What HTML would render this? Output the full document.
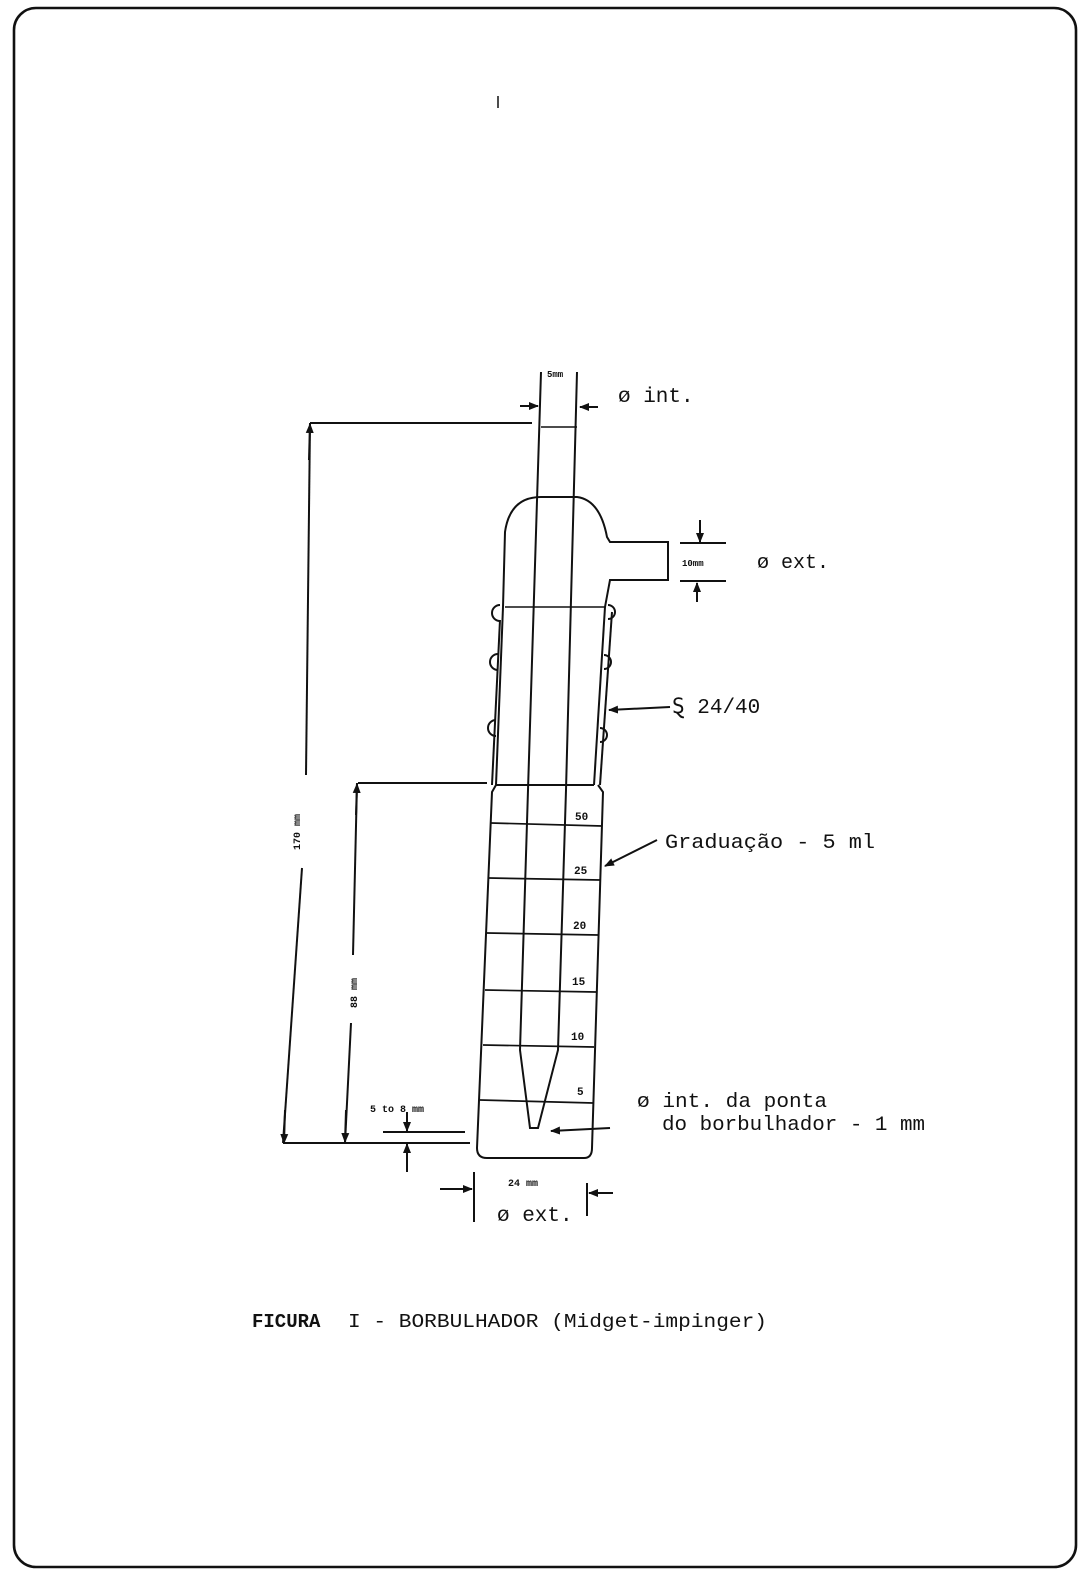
<!DOCTYPE html>
<html><head><meta charset="utf-8"><style>
html,body{margin:0;padding:0;background:#fff;}
svg{display:block;}
text{font-family:"Liberation Mono",monospace;fill:#111;}
</style></head><body>
<svg width="1083" height="1592" viewBox="0 0 1083 1592" xmlns="http://www.w3.org/2000/svg">
<defs>
<marker id="ah" markerWidth="10" markerHeight="10" refX="9" refY="5" orient="auto" markerUnits="userSpaceOnUse"><path d="M0,1 L10,5 L0,9 z" fill="#111"/></marker>
</defs>
<g fill="none" stroke="#111" stroke-width="2.6">
<rect x="14" y="8" width="1062" height="1559" rx="22"/>
</g>
<g fill="none" stroke="#111" stroke-width="2">
<!-- stray mark -->
<line x1="498" y1="96" x2="498" y2="108" stroke-width="1.5"/>
<!-- inner tube -->
<path d="M541 372 L528 790 L520 1050 L530 1128 L538 1128 L558 1050 L566 790 L577 372"/>
<line x1="541" y1="427" x2="577" y2="427" stroke-width="1.6"/>
<!-- 5mm dims -->
<line x1="520" y1="406" x2="538" y2="406" marker-end="url(#ah)"/>
<line x1="598" y1="407" x2="580" y2="407" marker-end="url(#ah)"/>
<!-- dome & side arm -->
<path d="M503 607 L505 532 Q510 497 541 497 L577 497 Q600 500 607 537 L610 542 L668 542 L668 580 L610 580 L605 607"/>
<line x1="505" y1="607" x2="605" y2="607" stroke-width="1.6"/>
<!-- joint left -->
<path d="M503 607 L496 785"/>
<path d="M500 620 L492 785"/>
<path d="M500 605 A8 8 0 0 0 500 621"/>
<path d="M498 654 A8 8 0 0 0 498 670"/>
<path d="M496 720 A8 8 0 0 0 496 736"/>
<!-- joint right -->
<path d="M605 607 L594 785"/>
<path d="M612 612 L600 785"/>
<path d="M608 605 A7 7 0 0 1 608 619"/>
<path d="M604 655 A7 7 0 0 1 604 669"/>
<path d="M600 728 A7 7 0 0 1 600 742"/>
<!-- lower body -->
<line x1="496" y1="785" x2="594" y2="785"/>
<path d="M496 785 L492 792 L477 1148 Q477 1158 487 1158 L584 1158 Q592 1158 592 1148 L603 792 L598 785"/>
<g stroke-width="1.7">
<line x1="491" y1="823" x2="602" y2="826"/>
<line x1="489" y1="878" x2="600" y2="880"/>
<line x1="487" y1="933" x2="598" y2="935"/>
<line x1="485" y1="990" x2="596" y2="992"/>
<line x1="483" y1="1045" x2="594" y2="1047"/>
<line x1="480" y1="1100" x2="593" y2="1103"/>
</g>
<!-- 170 mm -->
<line x1="310" y1="423" x2="532" y2="423"/>
<line x1="310" y1="423" x2="306" y2="775"/>
<line x1="302" y1="868" x2="283" y2="1143"/>
<line x1="283" y1="1143" x2="470" y2="1143"/>
<line x1="285" y1="1110" x2="284" y2="1143" marker-end="url(#ah)"/>
<line x1="309" y1="460" x2="310" y2="424" marker-end="url(#ah)"/>
<!-- 88 mm -->
<line x1="358" y1="783" x2="487" y2="783"/>
<line x1="357" y1="783" x2="353" y2="955"/>
<line x1="351" y1="1023" x2="345" y2="1143"/>
<line x1="356" y1="815" x2="357" y2="784" marker-end="url(#ah)"/>
<line x1="346" y1="1110" x2="345" y2="1142" marker-end="url(#ah)"/>
<!-- 5 to 8 mm -->
<line x1="383" y1="1132" x2="465" y2="1132"/>
<line x1="407" y1="1112" x2="407" y2="1131" marker-end="url(#ah)"/>
<line x1="407" y1="1172" x2="407" y2="1144" marker-end="url(#ah)"/>
<!-- 24 mm -->
<line x1="474" y1="1172" x2="474" y2="1222"/>
<line x1="587" y1="1183" x2="587" y2="1216"/>
<line x1="440" y1="1189" x2="472" y2="1189" marker-end="url(#ah)"/>
<line x1="613" y1="1193" x2="589" y2="1193" marker-end="url(#ah)"/>
<!-- 10 mm -->
<line x1="680" y1="543" x2="726" y2="543"/>
<line x1="680" y1="581" x2="726" y2="581"/>
<line x1="700" y1="520" x2="700" y2="542" marker-end="url(#ah)"/>
<line x1="697" y1="602" x2="697" y2="583" marker-end="url(#ah)"/>
<!-- leaders -->
<line x1="670" y1="707" x2="609" y2="710" marker-end="url(#ah)"/>
<line x1="657" y1="840" x2="605" y2="866" marker-end="url(#ah)"/>
<line x1="610" y1="1128" x2="551" y2="1131" marker-end="url(#ah)"/>
</g>
<!-- texts -->
<text x="547" y="377" font-size="9" font-weight="bold">5mm</text>
<text x="618" y="402" font-size="21">ø int.</text>
<text x="682" y="566" font-size="9" font-weight="bold">10mm</text>
<text x="757" y="568" font-size="20">ø ext.</text>
<text x="672" y="713" font-size="21">Ȿ 24/40</text>
<text x="665" y="848" font-size="20" textLength="210" lengthAdjust="spacingAndGlyphs">Graduação - 5 ml</text>
<text x="575" y="820" font-size="11" font-weight="bold">50</text>
<text x="574" y="874" font-size="11" font-weight="bold">25</text>
<text x="573" y="929" font-size="11" font-weight="bold">20</text>
<text x="572" y="985" font-size="11" font-weight="bold">15</text>
<text x="571" y="1040" font-size="11" font-weight="bold">10</text>
<text x="577" y="1095" font-size="11" font-weight="bold">5</text>
<text x="637" y="1107" font-size="20" textLength="190" lengthAdjust="spacingAndGlyphs">ø int. da ponta</text>
<text x="662" y="1130" font-size="20" textLength="263" lengthAdjust="spacingAndGlyphs">do borbulhador - 1 mm</text>
<text x="370" y="1112" font-size="10" font-weight="bold">5 to  8 mm</text>
<text x="508" y="1186" font-size="10" font-weight="bold">24 mm</text>
<text x="497" y="1221" font-size="21">ø ext.</text>
<text transform="translate(300,832) rotate(-90)" font-size="10" font-weight="bold" text-anchor="middle">170 mm</text>
<text transform="translate(357,993) rotate(-90)" font-size="10" font-weight="bold" text-anchor="middle">88 mm</text>
<text x="252" y="1327" font-size="19" font-weight="bold">FICURA</text>
<text x="348" y="1327" font-size="19" textLength="419" lengthAdjust="spacingAndGlyphs">I - BORBULHADOR (Midget-impinger)</text>
</svg>
</body></html>
